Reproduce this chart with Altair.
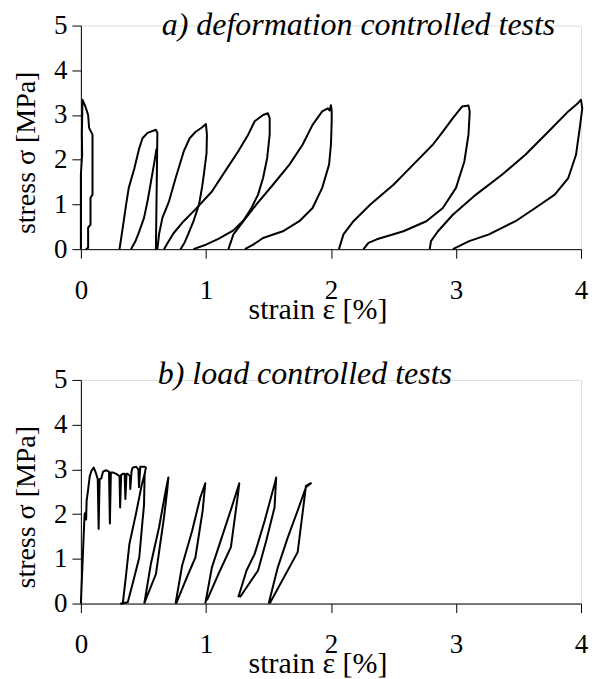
import altair as alt
import pandas as pd

# ---------------- a) deformation controlled tests ----------------
a1_strain = [0.0, 0.0, 0.01, 0.008, 0.013, 0.035, 0.058, 0.066, 0.093, 0.093, 0.077, 0.077, 0.058, 0.058, 0.04]
a1_stress = [0.0, 1.67, 2.11, 2.6, 3.34, 3.2, 3.0, 2.71, 2.56, 1.22, 1.15, 0.55, 0.48, 0.03, 0.0]

a2_strain = [0.309, 0.335, 0.362, 0.383, 0.428, 0.467, 0.493, 0.533, 0.599, 0.612, 0.61, 0.60]
a2_stress = [0.0, 0.48, 1.0, 1.37, 1.81, 2.26, 2.48, 2.6, 2.67, 2.6, 2.2, 0.0]

a2b_strain = [0.605, 0.585, 0.56, 0.535, 0.505, 0.465, 0.435, 0.401]
a2b_stress = [2.25, 1.9, 1.5, 1.1, 0.7, 0.38, 0.17, 0.0]

a3_strain = [0.612, 0.625, 0.652, 0.705, 0.758, 0.823, 0.87, 0.916, 0.968, 1.0,
             1.008, 1.005, 0.985, 0.97, 0.945, 0.9, 0.86, 0.83, 0.797]
a3_stress = [0.0, 0.33, 0.70, 1.07, 1.59, 2.19, 2.48, 2.62, 2.72, 2.8,
             2.56, 2.15, 1.7, 1.4, 1.0, 0.62, 0.35, 0.15, 0.0]

a4_strain = [0.665, 0.69, 0.74, 0.82, 0.92, 1.048, 1.153, 1.259, 1.338, 1.39, 1.457, 1.495,
             1.51, 1.51, 1.49, 1.457, 1.417, 1.364, 1.30, 1.22, 1.10, 1.0, 0.90]
a4_stress = [0.0, 0.12, 0.35, 0.62, 0.9, 1.29, 1.74, 2.19, 2.56, 2.86, 3.0, 3.04,
             2.93, 2.56, 2.04, 1.59, 1.22, 0.92, 0.64, 0.42, 0.23, 0.1, 0.0]

a5_strain = [1.18, 1.22, 1.30, 1.404, 1.536, 1.668, 1.774, 1.853, 1.93, 1.975, 1.99, 2.0,
             2.006, 2.006, 2.0, 1.985, 1.93, 1.853, 1.747, 1.615, 1.457, 1.378, 1.312]
a5_stress = [0.0, 0.33, 0.625, 1.0, 1.44, 1.89, 2.34, 2.78, 3.08, 3.15, 3.1, 3.22,
             3.1, 2.86, 2.34, 1.89, 1.37, 0.92, 0.625, 0.4, 0.25, 0.1, 0.0]

a6_strain = [2.064, 2.10, 2.18, 2.315, 2.50, 2.658, 2.816, 2.895, 2.975, 3.05, 3.10,
             3.11, 3.10, 3.067, 3.0, 2.895, 2.763, 2.58, 2.367, 2.30, 2.26]
a6_stress = [0.0, 0.33, 0.625, 1.0, 1.44, 1.89, 2.34, 2.63, 2.93, 3.19, 3.21,
             3.08, 2.56, 1.96, 1.37, 0.92, 0.625, 0.4, 0.22, 0.14, 0.0]

a7_strain = [2.79, 2.80, 2.856, 2.975, 3.16, 3.37, 3.555, 3.74, 3.898, 3.977, 4.0,
             4.01, 3.99, 3.96, 3.898, 3.79, 3.634, 3.476, 3.264, 3.106, 2.975]
a7_stress = [0.0, 0.18, 0.4, 0.77, 1.22, 1.67, 2.11, 2.63, 3.08, 3.27, 3.34,
             3.15, 2.71, 2.11, 1.59, 1.22, 0.92, 0.625, 0.33, 0.18, 0.0]

# ---------------- b) load controlled tests ----------------
b1_strain = [0.0, 0.013, 0.024, 0.03, 0.042, 0.042, 0.046, 0.058, 0.071, 0.085, 0.103, 0.119, 0.135,
             0.142, 0.15, 0.164, 0.177, 0.203, 0.225, 0.232, 0.24, 0.256, 0.283, 0.309, 0.314,
             0.322, 0.335, 0.35, 0.356, 0.365, 0.375, 0.393, 0.395, 0.405, 0.414, 0.441, 0.46,
             0.465, 0.475, 0.507, 0.52,
             0.51, 0.505, 0.493, 0.467, 0.42, 0.375, 0.32,
             0.335, 0.36, 0.388, 0.44, 0.488, 0.515]
b1_stress = [0.0, 0.89, 1.63, 2.0, 2.05, 1.88, 2.3, 2.55, 2.85, 2.97, 3.04, 2.93, 2.78,
             1.67, 2.78, 2.8, 2.95, 2.98, 2.95, 1.79, 2.93, 2.93, 2.9, 2.85, 2.15,
             2.88, 2.9, 2.9, 2.34, 2.9, 2.9, 2.85, 2.56, 2.95, 3.04, 3.06, 3.0,
             2.6, 3.06, 3.06, 3.04,
             2.9, 2.2, 1.85, 1.03, 0.51, 0.03, 0.0,
             0.0, 0.6, 1.33, 2.0, 2.67, 2.95]

b2_strain = [0.507, 0.56, 0.625, 0.678, 0.70, 0.69, 0.665, 0.6, 0.52, 0.507]
b2_stress = [0.0, 0.89, 1.7, 2.52, 2.82, 2.52, 1.93, 0.66, 0.1, 0.0]

b3_strain = [0.757, 0.81, 0.89, 0.955, 0.995, 0.974, 0.916, 0.85, 0.762]
b3_stress = [0.0, 0.85, 1.63, 2.37, 2.69, 2.08, 1.03, 0.6, 0.0]

b4_strain = [0.995, 1.048, 1.127, 1.206, 1.267, 1.253, 1.2, 1.10, 1.008]
b4_stress = [0.0, 0.81, 1.48, 2.15, 2.69, 2.37, 1.26, 0.66, 0.07]

b5_strain = [1.259, 1.325, 1.39, 1.47, 1.549, 1.562, 1.549, 1.483, 1.417, 1.272]
b5_stress = [0.14, 0.74, 1.11, 1.85, 2.67, 2.82, 2.15, 1.41, 0.74, 0.14]

b6_strain = [1.502, 1.575, 1.655, 1.734, 1.80, 1.84, 1.80, 1.79, 1.734, 1.51]
b6_stress = [0.0, 0.81, 1.48, 2.08, 2.6, 2.69, 2.63, 2.4, 1.15, 0.0]

x_ticks = [0, 1, 2, 3, 4]
y_ticks = [0, 1, 2, 3, 4, 5]
panel_titles = ["a) deformation controlled tests", "b) load controlled tests"]


def build(segments):
    rows = []
    for name, xs, ys in segments:
        for i, (sx, sy) in enumerate(zip(xs, ys)):
            rows.append({"seg": name, "idx": i, "strain": sx, "stress": sy})
    return pd.DataFrame(rows)


top_df = build([
    ("a1", a1_strain, a1_stress), ("a2", a2_strain, a2_stress), ("a2b", a2b_strain, a2b_stress),
    ("a3", a3_strain, a3_stress), ("a4", a4_strain, a4_stress), ("a5", a5_strain, a5_stress),
    ("a6", a6_strain, a6_stress), ("a7", a7_strain, a7_stress),
])
bot_df = build([
    ("b1", b1_strain, b1_stress), ("b2", b2_strain, b2_stress), ("b3", b3_strain, b3_stress),
    ("b4", b4_strain, b4_stress), ("b5", b5_strain, b5_stress), ("b6", b6_strain, b6_stress),
])

FONT = "Liberation Serif"
W, H = 501, 224


def panel(df, title_text, tx, ty):
    x_axis = alt.Axis(values=x_ticks, title="strain ε [%]", grid=False,
                      domainColor="black", domainWidth=1, tickColor="black", tickSize=9,
                      labelFont=FONT, labelFontSize=27, labelColor="black",
                      labelBaseline="alphabetic", labelPadding=40, labelFlush=False,
                      titleFont=FONT, titleFontSize=30, titleFontWeight="normal", titleColor="black",
                      titleX=237, titleY=69, titleBaseline="alphabetic")
    y_axis = alt.Axis(values=y_ticks, title="stress σ [MPa]", grid=False,
                      domainColor="black", domainWidth=1, tickColor="black", tickSize=9,
                      labelFont=FONT, labelFontSize=27, labelColor="black", labelPadding=5,
                      titleFont=FONT, titleFontSize=28, titleFontWeight="normal", titleColor="black",
                      titleX=-46, titleY=127, titleBaseline="alphabetic", titleAngle=270)
    lines = alt.Chart(df).mark_line(color="black", strokeWidth=2.0, strokeJoin="round").encode(
        x=alt.X("strain:Q", scale=alt.Scale(domain=[0, 4], nice=False, zero=False), axis=x_axis),
        y=alt.Y("stress:Q", scale=alt.Scale(domain=[0, 5], nice=False), axis=y_axis),
        detail="seg:N",
        order="idx:Q",
    )
    label = alt.Chart(pd.DataFrame({"t": [title_text]})).mark_text(
        font=FONT, fontSize=32, fontStyle="italic", color="black",
        align="left", baseline="alphabetic",
    ).encode(text="t:N", x=alt.value(tx), y=alt.value(ty))
    return alt.layer(lines, label).properties(width=W, height=H)


chart = alt.vconcat(
    panel(top_df, panel_titles[0], 81, 9.5),
    panel(bot_df, panel_titles[1], 77, 4),
    spacing=32,
).properties(
    padding={"left": 4, "top": 0, "right": 0, "bottom": 0},
).configure_view(stroke=None).configure(background="white")

chart.save("out.html", embed_options={"renderer": "svg", "actions": False})
